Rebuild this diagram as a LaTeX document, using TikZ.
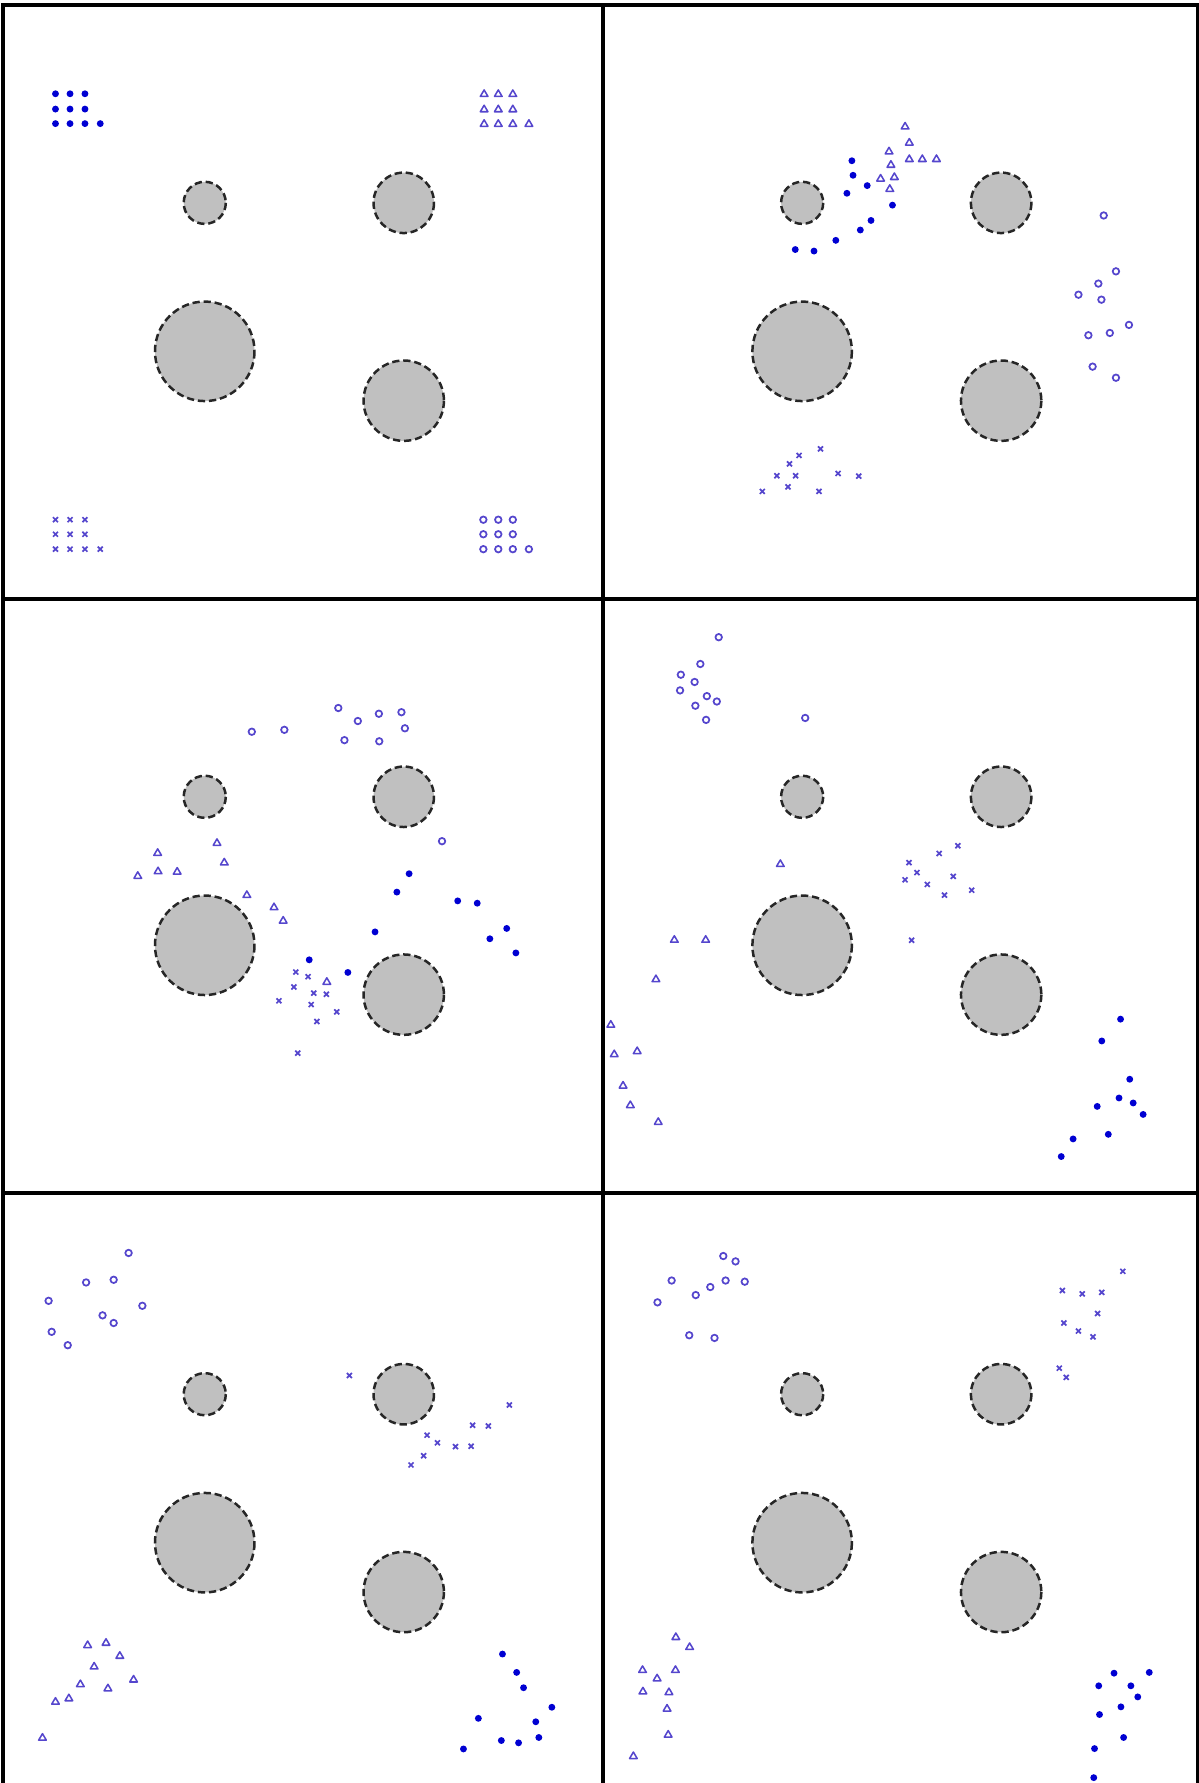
\documentclass[tikz,border=0pt]{standalone}

\definecolor{obstgray}{RGB}{192,192,192}
\definecolor{dotblue}{RGB}{0,0,210}
\definecolor{markblue}{RGB}{85,70,205}

\newcommand{\pdot}[2]{\fill[dotm] (#1,#2) circle (9);}
\newcommand{\ptri}[2]{\draw[trim] (#1,#2) ++(0,-10) -- ++(10,17) -- ++(-20,0) -- cycle;}
\newcommand{\pring}[2]{\draw[ringm] (#1,#2) circle (8.5);}
\newcommand{\pcross}[2]{\draw[crossm] (#1,#2) ++(-6.5,-6.5) -- ++(13,13) ++(-13,0) -- ++(13,-13);}

\begin{document}
\begin{tikzpicture}[
  x=0.01cm, y=-0.01cm,
  obstacle/.style={fill=obstgray, draw=black!85, line width=0.065cm,
    dash pattern=on 0.19cm off 0.1cm},
  frame/.style={draw=black, line width=0.1cm},
  dotm/.style={dotblue},
  trim/.style={draw=markblue, line width=0.04cm, line join=round},
  ringm/.style={draw=markblue, line width=0.045cm},
  crossm/.style={draw=markblue, line width=0.045cm},
]
  \useasboundingbox (0,0) rectangle (3133,4659);

  \draw[frame] (8,4670) -- (8,12) -- (3130,12) -- (3130,4670);
  \draw[frame] (1575,12) -- (1575,4670);
  \draw[frame] (8,1565) -- (3130,1565);
  \draw[frame] (8,3117) -- (3130,3117);

  \foreach \px/\py in {0/0, 1561/0, 0/1552, 1561/1552, 0/3113, 1561/3113} {
    \begin{scope}[shift={(\px,\py)}]
      \draw[obstacle] (535,530) circle (55);
      \draw[obstacle] (1055,530) circle (79);
      \draw[obstacle] (535,918) circle (130);
      \draw[obstacle] (1055,1047) circle (105);
    \end{scope}
  }

  % start
  \foreach \x/\y in {145/245,183/245,222/245,145/285,183/285,222/285,
    145/323,183/323,222/323,262/323} {\pdot{\x}{\y}}
  \foreach \x/\y in {1265/245,1302/245,1340/245,1265/285,1302/285,1340/285,
    1265/323,1302/323,1340/323,1382/323} {\ptri{\x}{\y}}
  \foreach \x/\y in {145/1358,183/1358,222/1358,145/1396,183/1396,222/1396,
    145/1435,183/1435,222/1435,262/1435} {\pcross{\x}{\y}}
  \foreach \x/\y in {1263/1358,1302/1358,1340/1358,1263/1396,1302/1396,1340/1396,
    1263/1435,1302/1435,1340/1435,1382/1435} {\pring{\x}{\y}}

  \begin{scope}[shift={(1568,0)}]
    \foreach \x/\y in {797/330,808/372,755/395,808/415,842/415,879/415,
      760/430,733/466,769/462,757/493} {\ptri{\x}{\y}}
    \foreach \x/\y in {658/420,661/458,698/485,645/505,764/536,708/576,
      680/601,616/628,510/652,559/656} {\pdot{\x}{\y}}
    \foreach \x/\y in {1316/563,1348/709,1302/741,1250/770,1310/783,1382/849,
      1276/876,1332/870,1287/958,1348/987} {\pring{\x}{\y}}
    \foreach \x/\y in {576/1173,520/1190,495/1212,462/1243,511/1243,622/1237,
      676/1244,424/1284,491/1272,572/1284} {\pcross{\x}{\y}}
  \end{scope}

  \begin{scope}[shift={(0,1555)}]
    \foreach \x/\y in {884/295,935/329,990/310,1049/306,1058/348,900/379,
      991/382,658/357,743/352,1155/643} {\pring{\x}{\y}}
    \foreach \x/\y in {567/647,412/673,586/698,360/733,413/721,463/722,
      645/783,716/815,740/850,854/1010} {\ptri{\x}{\y}}
    \foreach \x/\y in {1069/728,1037/776,1196/799,1247/805,980/880,1324/871,
      1280/898,1348/935,808/953,909/986} {\pdot{\x}{\y}}
    \foreach \x/\y in {773/985,805/997,768/1024,820/1040,853/1043,729/1060,
      813/1070,880/1089,828/1114,778/1197} {\pcross{\x}{\y}}
  \end{scope}

  \begin{scope}[shift={(1568,1555)}]
    \foreach \x/\y in {310/110,262/180,211/208,247/227,209/249,279/264,
      305/278,249/289,277/326,536/321} {\pring{\x}{\y}}
    \foreach \x/\y in {471/702,194/900,276/900,146/1003,28/1122,37/1199,
      97/1191,60/1281,79/1332,152/1376} {\ptri{\x}{\y}}
    \foreach \x/\y in {935/655,886/675,807/699,828/725,797/744,855/756,
      923/735,900/784,971/771,814/902} {\pcross{\x}{\y}}
    \foreach \x/\y in {1360/1108,1311/1165,1384/1265,1356/1314,1393/1327,
      1419/1357,1299/1336,1236/1421,1328/1409,1205/1467} {\pdot{\x}{\y}}
  \end{scope}

  \begin{scope}[shift={(0,3110)}]
    \foreach \x/\y in {336/164,225/241,297/234,127/289,372/302,268/327,
      297/347,135/370,177/405} {\pring{\x}{\y}}
    \foreach \x/\y in {913/484,1331/561,1235/614,1276/616,1116/640,1143/660,
      1190/670,1231/669,1107/694,1074/718} {\pcross{\x}{\y}}
    \foreach \x/\y in {229/1188,277/1182,313/1216,246/1244,210/1290,282/1301,
      349/1278,145/1336,180/1327,111/1430} {\ptri{\x}{\y}}
    \foreach \x/\y in {1313/1212,1350/1260,1368/1300,1442/1351,1250/1380,
      1400/1389,1310/1438,1355/1444,1408/1430,1211/1460} {\pdot{\x}{\y}}
  \end{scope}

  \begin{scope}[shift={(1568,3110)}]
    \foreach \x/\y in {322/172,354/186,187/236,150/293,250/274,288/253,
      328/236,378/239,233/379,299/386} {\pring{\x}{\y}}
    \foreach \x/\y in {1366/212,1208/262,1260/271,1311/267,1300/322,1212/347,
      1250/368,1288/383,1200/465,1218/489} {\pcross{\x}{\y}}
    \foreach \x/\y in {198/1167,234/1193,111/1253,149/1275,197/1253,112/1309,
      180/1311,175/1354,178/1422,87/1478} {\ptri{\x}{\y}}
    \foreach \x/\y in {1343/1262,1435/1260,1303/1295,1387/1295,1405/1324,
      1361/1350,1305/1370,1368/1430,1292/1459,1290/1535} {\pdot{\x}{\y}}
  \end{scope}
\end{tikzpicture}
\end{document}
